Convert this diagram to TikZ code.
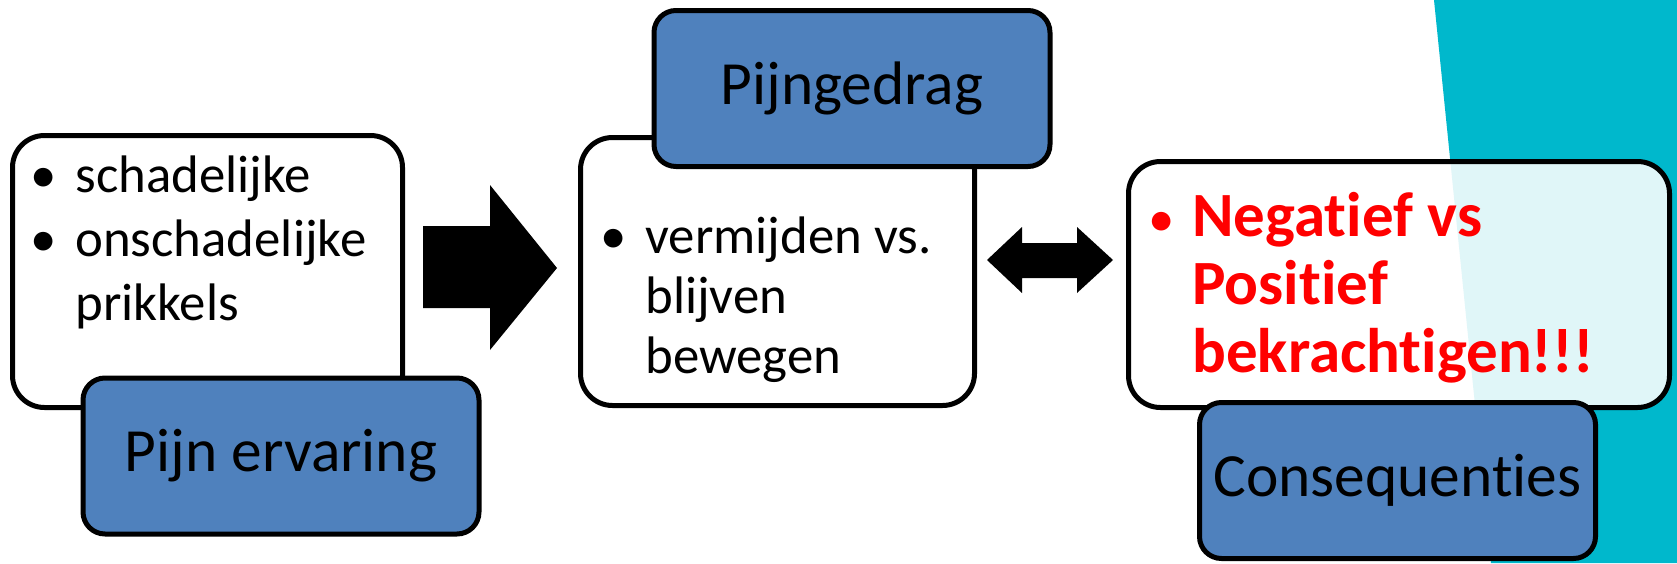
\documentclass[tikz,border=0pt]{standalone}
\usepackage{fontspec}
\setmainfont{Carlito}[RawFeature={-liga;-clig;-calt;-dlig}]
\definecolor{tagblue}{HTML}{4F81BD}
\definecolor{tealband}{RGB}{0,184,204}
\tikzset{
  card/.style={draw, line width=2.5pt, rounded corners=16pt, fill=white},
  tag/.style={draw, line width=2.5pt, rounded corners=11pt, fill=tagblue,
    minimum width=198pt, minimum height=78pt, font=\fontsize{30.7}{36}\selectfont},
  items/.style={anchor=north west, inner sep=0pt, align=left,
    font=\fontsize{26.4}{32}\selectfont},
}
\newcommand{\bul}{\strut\makebox[22.5pt][l]{\textbullet}}
\newcommand{\ind}{\hspace*{22.5pt}}
\begin{document}
\begin{tikzpicture}[x=0.5pt,y=-0.5pt]
\useasboundingbox (0,0) rectangle (1677,563);
% band on the right
\fill [tealband] (1434,0) -- (1677,0) -- (1677,563) -- (1491,563) -- cycle;
% experience
\node [card, minimum width=195pt, minimum height=136pt] (ervbox) at (207.5,271.5) {};
\node [items] (ervtext) at (30,147.6) {\bul schadelijke\\\bul onschadelijke\\\ind prikkels};
\node [tag] (erv) at (281,456) {Pijn ervaring};
% behaviour
\node [card, minimum width=197pt, minimum height=134pt] (gedragbox) at (777.5,271.5) {};
\node [items, font=\fontsize{26.4}{30}\selectfont] (gedragtext) at (600,211.4)
  {\bul vermijden vs.\\\ind blijven\\\ind bewegen};
\node [tag] (gedrag) at (852,88.5) {Pijngedrag};
% consequences
\node [card, fill opacity=0.88, minimum width=270.5pt, minimum height=123pt] (gevolgbox) at (1399,284.5) {};
\node [items, text=red, font=\fontsize{31.5}{34}\selectfont\bfseries] (gevolgtext) at (1148,188)
  {\strut\makebox[22pt][l]{\mdseries\fontsize{26.4}{34}\selectfont\textbullet}Negatief vs\\
   \hspace*{22pt}Positief\\\hspace*{22pt}bekrachtigen!!!};
\node [tag] (gevolg) at (1397.5,480.5) {Consequenties};
% block arrows
\fill (423,226) -- (490,226) -- (490,185) -- (557,268) -- (490,350) -- (490,308) -- (423,308) -- cycle;
\fill (987,260) -- (1022,227) -- (1022,243) -- (1077,243) -- (1077,227) -- (1113,260)
  -- (1077,293) -- (1077,278) -- (1022,278) -- (1022,293) -- cycle;
\end{tikzpicture}
\end{document}
